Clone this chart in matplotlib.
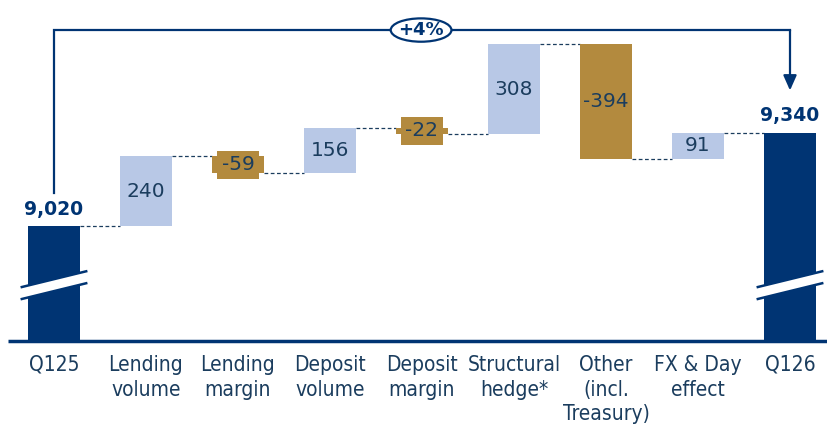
import numpy as np
import matplotlib.pyplot as plt
from matplotlib.patches import Ellipse, Polygon

# data
categories = ["Q125", "Lending\nvolume", "Lending\nmargin", "Deposit\nvolume",
              "Deposit\nmargin", "Structural\nhedge*", "Other\n(incl.\nTreasury)",
              "FX & Day\neffect", "Q126"]
start_value = 9020
deltas = [240, -59, 156, -22, 308, -394, 91]
end_value = 9340
growth_label = "+4%"
axis_floor = 8626  # broken axis: bars start here

navy = '#003473'
light = '#b8c8e6'
gold = '#b38a3e'
txt = '#1b3d5e'

plt.rcParams['font.family'] = ['DejaVu Sans']
plt.rcParams['font.stretch'] = 'condensed'

fig = plt.figure(figsize=(8.28, 4.25), dpi=100)
ax = fig.add_axes([0, 84 / 425, 1, 341 / 425])
ax.set_xlim(-54 / 92, (828 - 54) / 92)
ax.set_ylim(axis_floor, axis_floor + 341 / 0.2917)
for s in ax.spines.values():
    s.set_visible(False)
ax.set_yticks([])

w = 0.56
x = np.arange(len(categories))

# totals
for xi, val in [(x[0], start_value), (x[-1], end_value)]:
    ax.bar(xi, val - axis_floor, bottom=axis_floor, width=w, color=navy, zorder=2)

# steps
level = start_value
levels = [start_value]
for i, d in enumerate(deltas):
    xi = x[i + 1]
    col = light if d > 0 else gold
    bottom = min(level, level + d)
    ax.bar(xi, abs(d), bottom=bottom, width=w, color=col, zorder=2)
    lbl = f"{d}"
    mid = bottom + abs(d) / 2
    if abs(d) < 70:
        ax.text(xi, mid, lbl, ha='center', va='center', fontsize=14.5, color=txt, zorder=4,
                fontstretch='normal',
                bbox=dict(boxstyle='square,pad=0.22', fc=col, ec='none'))
    else:
        ax.text(xi, mid, lbl, ha='center', va='center', fontsize=14.5, color=txt, zorder=4,
                fontstretch='normal')
    level += d
    levels.append(level)

# connectors
for i in range(len(levels)):
    ax.plot([x[i] + w / 2, x[i + 1] - w / 2], [levels[i], levels[i]],
            ls=(0, (3, 2)), lw=0.9, color=txt, zorder=1)

# total labels
ax.text(x[0], start_value + 58, f"{start_value:,}", ha='center', va='center',
        fontsize=13.5, fontweight='bold', color=navy, fontstretch='normal')
ax.text(x[-1], end_value + 58, f"{end_value:,}", ha='center', va='center',
        fontsize=13.5, fontweight='bold', color=navy, fontstretch='normal')

# bracket with arrow
top = 9692
ax.plot([x[0], x[0], x[-1]], [start_value + 115, top, top], color=navy, lw=1.6,
        solid_joinstyle='miter', zorder=3)
ax.annotate('', xy=(x[-1], end_value + 145), xytext=(x[-1], top),
            arrowprops=dict(arrowstyle='-|>,head_length=0.9,head_width=0.4',
                            color=navy, lw=1.6, shrinkA=0, shrinkB=0))
xm = (x[0] + x[-1]) / 2 - 0.01
ax.add_patch(Ellipse((xm, top), 0.66, 80, fc='white', ec=navy, lw=1.6, zorder=4))
ax.text(xm, top, growth_label, ha='center', va='center', fontsize=13,
        fontweight='bold', color=navy, zorder=5, fontstretch='normal')

# break marks
for xi in [x[0], x[-1]]:
    yc = 8838
    x0, x1 = xi - 0.35, xi + 0.35
    slope = 27
    gap = 41
    ax.add_patch(Polygon([[x0, yc - slope], [x1, yc + slope],
                          [x1, yc + slope - gap], [x0, yc - slope - gap]],
                         closed=True, fc='white', ec='none', zorder=3))
    ax.plot([x0, x1], [yc - slope, yc + slope], color=navy, lw=1.8, zorder=3)
    ax.plot([x0, x1], [yc - slope - gap, yc + slope - gap], color=navy, lw=1.8, zorder=3)

# baseline
ax.plot([-0.5, 8.5], [axis_floor, axis_floor], color=navy, lw=2.5, zorder=3,
        clip_on=False, solid_capstyle='butt')

ax.set_xticks(x)
ax.set_xticklabels(categories, fontsize=15, color=txt, linespacing=1.3)
ax.tick_params(axis='x', length=0, pad=10)

fig.savefig('out.png', dpi=100)
